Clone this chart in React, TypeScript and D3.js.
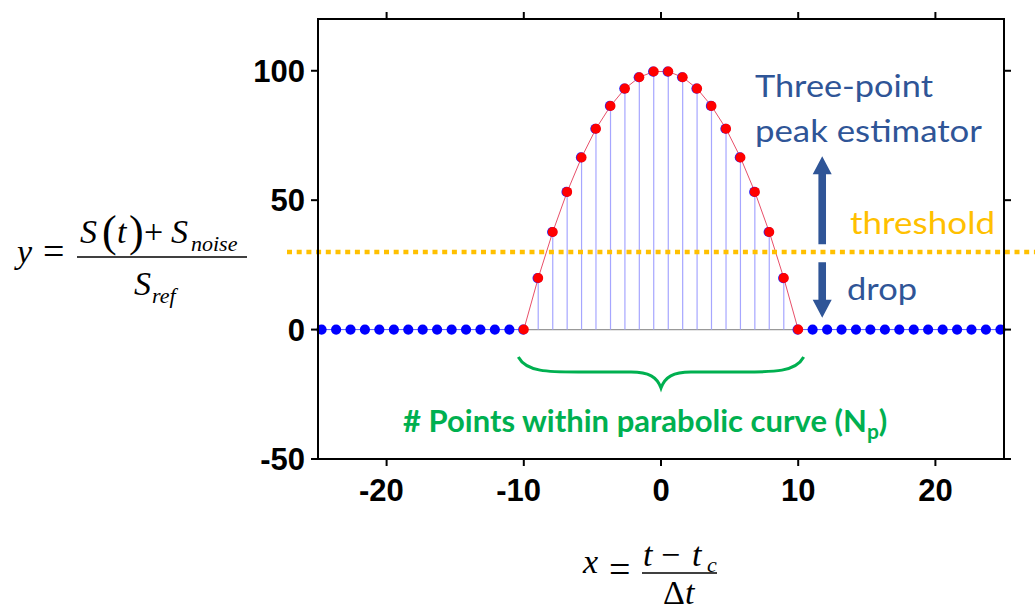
import React from "react";
import * as d3 from "d3";

const xTicks = [-20, -10, 0, 10, 20];
const yTicks = [-50, 0, 50, 100];

const curveX = [-10, -8.95, -7.89, -6.84, -5.79, -4.74, -3.68, -2.63, -1.58, -0.53, 0.53, 1.58, 2.63, 3.68, 4.74, 5.79, 6.84, 7.89, 8.95, 10];
const curveY = [0, 19.9, 37.7, 53.2, 66.5, 77.6, 86.4, 93.1, 97.5, 99.7, 99.7, 97.5, 93.1, 86.4, 77.6, 66.5, 53.2, 37.7, 19.9, 0];
const noiseLeftX = [-24.74, -23.68, -22.63, -21.58, -20.53, -19.47, -18.42, -17.37, -16.32, -15.26, -14.21, -13.16, -12.11, -11.05];
const noiseRightX = [11.05, 12.11, 13.16, 14.21, 15.26, 16.32, 17.37, 18.42, 19.47, 20.53, 21.58, 22.63, 23.68, 24.74];
const noiseY = 0;
const threshold = 30;

const W = 1035, H = 612;
const PL = 318, PR = 1004, PT = 19, PB = 459;

export default function App() {
  const x = d3.scaleLinear().domain([-25, 25]).range([PL, PR]);
  const y = d3.scaleLinear().domain([-50, 120]).range([PB, PT]);
  const pts = curveX.map((v, i) => [v, curveY[i]] as [number, number]);
  const line = d3.line<[number, number]>().x(d => x(d[0])).y(d => y(d[1]));
  const blueAll = [...noiseLeftX, ...noiseRightX];

  const tickFont = { fontFamily: "'Liberation Sans', Arial, sans-serif", fontWeight: 700, fontSize: 31 };
  const annFont = "Lato, 'Open Sans', sans-serif";
  const navy = "#2F5597";
  const green = "#00B050";
  const serif = "'Liberation Serif', 'Times New Roman', serif";

  // arrows
  const ax = x(11.75);
  const upTop = y(67), upBot = y(33);
  const dnTop = y(26), dnBot = y(4.6);
  const sw = 3.8, hw = 9.5, hl = 18;
  const upArrow = `M${ax - sw},${upBot} L${ax - sw},${upTop + hl} L${ax - hw},${upTop + hl} L${ax},${upTop} L${ax + hw},${upTop + hl} L${ax + sw},${upTop + hl} L${ax + sw},${upBot} Z`;
  const dnArrow = `M${ax - sw},${dnTop} L${ax - sw},${dnBot - hl} L${ax - hw},${dnBot - hl} L${ax},${dnBot} L${ax + hw},${dnBot - hl} L${ax + sw},${dnBot - hl} L${ax + sw},${dnTop} Z`;

  // brace
  const bl = x(-10.4), br = x(10.4), bc = x(0);
  const bTop = 357, bMid = 372, bTip = 388;
  const brace = `M${bl},${bTop} C${bl + 8},${bMid} ${bl + 30},${bMid} ${bl + 60},${bMid} L${bc - 30},${bMid} C${bc - 12},${bMid} ${bc - 4},${bMid + 5} ${bc},${bTip} C${bc + 4},${bMid + 5} ${bc + 12},${bMid} ${bc + 30},${bMid} L${br - 60},${bMid} C${br - 30},${bMid} ${br - 8},${bMid} ${br},${bTop}`;

  return (
    <svg width={W} height={H} style={{ position: "absolute", left: 0, top: 0, background: "#fff" }}>
      {/* baseline lines */}
      <line x1={x(noiseLeftX[0])} x2={x(curveX[0])} y1={y(0)} y2={y(0)} stroke="#5555ff" strokeWidth={1} />
      <line x1={x(curveX[curveX.length - 1])} x2={x(noiseRightX[noiseRightX.length - 1])} y1={y(0)} y2={y(0)} stroke="#5555ff" strokeWidth={1} />
      <line x1={x(curveX[0])} x2={x(curveX[curveX.length - 1])} y1={y(0)} y2={y(0)} stroke="#999" strokeWidth={1.2} />
      {/* stems */}
      {pts.map((p, i) => (
        <line key={"s" + i} x1={x(p[0])} x2={x(p[0])} y1={y(0)} y2={y(p[1])} stroke="#a6a6ff" strokeWidth={1.2} />
      ))}
      <path d={line(pts) || ""} fill="none" stroke="#e8506a" strokeWidth={1} />
      {/* threshold */}
      <line x1={287} x2={W} y1={y(threshold)} y2={y(threshold)} stroke="#FFC000" strokeWidth={4.5} strokeDasharray="5 4.7" />
      {/* dots */}
      {blueAll.map((v, i) => (
        <circle key={"b" + i} cx={x(v)} cy={y(noiseY)} r={5.1} fill="#0000ff" />
      ))}
      {pts.map((p, i) => (
        <g key={"r" + i}>
          <circle cx={x(p[0]) - 0.6} cy={y(p[1])} r={5.1} fill="#2222ff" />
          <circle cx={x(p[0])} cy={y(p[1])} r={5} fill="#ff0000" />
        </g>
      ))}
      {/* frame */}
      <rect x={PL} y={PT} width={PR - PL} height={PB - PT} fill="none" stroke="#000" strokeWidth={2} />
      {yTicks.map(t => (
        <g key={"yt" + t}>
          <line x1={PL - 7} x2={PL} y1={y(t)} y2={y(t)} stroke="#000" strokeWidth={2} />
          <line x1={PR} x2={PR + 7} y1={y(t)} y2={y(t)} stroke="#000" strokeWidth={2} />
          <text x={305} y={y(t) + 11} textAnchor="end" {...tickFont}>{t}</text>
        </g>
      ))}
      {xTicks.map(t => (
        <g key={"xt" + t}>
          <line x1={x(t)} x2={x(t)} y1={PB} y2={PB + 7} stroke="#000" strokeWidth={2} />
          <line x1={x(t)} x2={x(t)} y1={PT - 7} y2={PT} stroke="#000" strokeWidth={2} />
          <text x={x(t) - (t < 0 ? 5.2 : 0)} y={501} textAnchor="middle" {...tickFont}>{t}</text>
        </g>
      ))}
      {/* annotations */}
      <text x={755} y={97} fill={navy} fontFamily={annFont} fontSize={31} textLength={178} lengthAdjust="spacingAndGlyphs">Three-point</text>
      <text x={755} y={142} fill={navy} fontFamily={annFont} fontSize={31} textLength={227} lengthAdjust="spacingAndGlyphs">peak estimator</text>
      <text x={850} y={234} fill="#FFC000" fontFamily={annFont} fontSize={31} textLength={145} lengthAdjust="spacingAndGlyphs">threshold</text>
      <text x={847} y={300} fill={navy} fontFamily={annFont} fontSize={31} textLength={70} lengthAdjust="spacingAndGlyphs">drop</text>
      <path d={upArrow} fill={navy} />
      <path d={dnArrow} fill={navy} />
      <path d={brace} fill="none" stroke={green} strokeWidth={3} />
      <text x={403} y={432} fill={green} fontFamily={annFont} fontWeight={700} fontSize={31}>
        # Points within parabolic curve (N<tspan fontSize={21} dy={7}>p</tspan><tspan dy={-7}>)</tspan>
      </text>
      {/* y formula */}
      <g fontFamily={serif} fill="#000">
        <text x={17} y={263} fontSize={34} fontStyle="italic">y</text>
        <text x={43} y={264} fontSize={38}>=</text>
        <line x1={77} x2={247} y1={257} y2={257} stroke="#000" strokeWidth={1.6} />
        <text x={80} y={243} fontSize={34} fontStyle="italic">S</text>
        <text x={102} y={246} fontSize={44}>(</text>
        <text x={117} y={243} fontSize={34} fontStyle="italic">t</text>
        <text x={129} y={246} fontSize={44}>)</text>
        <text x={144} y={243} fontSize={34}>+</text>
        <text x={171} y={243} fontSize={34} fontStyle="italic">S</text>
        <text x={191} y={251} fontSize={22} fontStyle="italic">noise</text>
        <text x={134} y={295} fontSize={34} fontStyle="italic">S</text>
        <text x={152} y={303} fontSize={22} fontStyle="italic">ref</text>
      </g>
      {/* x formula */}
      <g fontFamily={serif} fill="#000">
        <text x={583} y={573} fontSize={34} fontStyle="italic">x</text>
        <text x={609} y={582} fontSize={38}>=</text>
        <line x1={642} x2={717} y1={573} y2={573} stroke="#000" strokeWidth={1.6} />
        <text x={643} y={566} fontSize={34} fontStyle="italic">t</text>
        <text x={661} y={566} fontSize={34}>−</text>
        <text x={692} y={566} fontSize={34} fontStyle="italic">t</text>
        <text x={707} y={572} fontSize={22} fontStyle="italic">c</text>
        <text x={663} y={604} fontSize={34}>Δ<tspan fontStyle="italic">t</tspan></text>
      </g>
    </svg>
  );
}
